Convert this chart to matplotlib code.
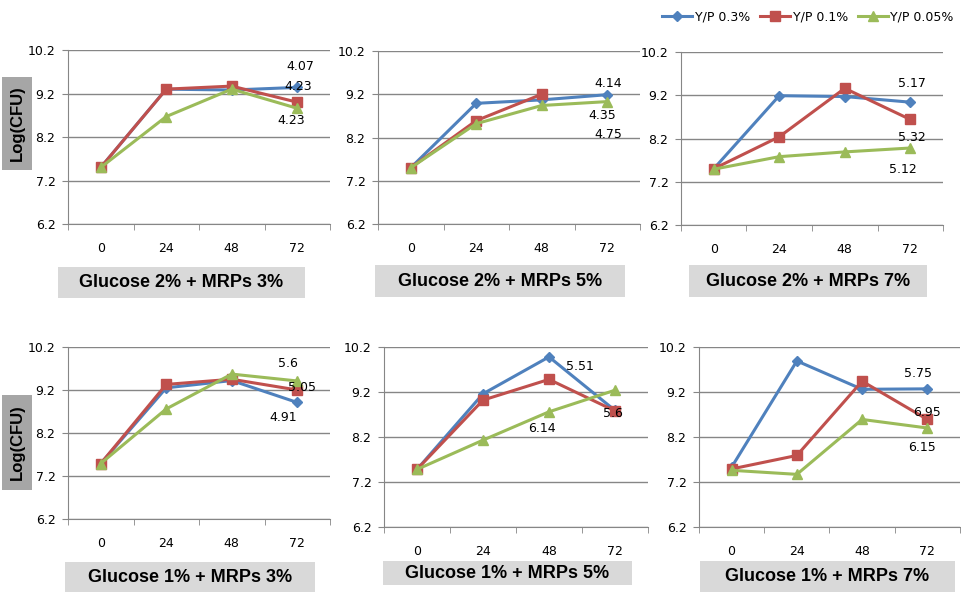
import numpy as np
import matplotlib
matplotlib.use('Agg')
import matplotlib.pyplot as plt
from matplotlib.patches import Rectangle

# time points (h)
hours = ['0', '24', '48', '72']
series_names = ['Y/P 0.3%', 'Y/P 0.1%', 'Y/P 0.05%']

titles = ['Glucose 2% + MRPs 3%', 'Glucose 2% + MRPs 5%', 'Glucose 2% + MRPs 7%',
          'Glucose 1% + MRPs 3%', 'Glucose 1% + MRPs 5%', 'Glucose 1% + MRPs 7%']

# Log(CFU) per panel, one list per series (0.3%, 0.1%, 0.05%)
g2_m3 = [[7.50, 9.30, 9.28, 9.34],
         [7.50, 9.30, 9.37, 9.00],
         [7.50, 8.67, 9.30, 8.86]]
g2_m5 = [[7.50, 8.99, 9.07, 9.19],
         [7.50, 8.59, 9.20, np.nan],
         [7.50, 8.52, 8.94, 9.03]]
g2_m7 = [[7.50, 9.19, 9.17, 9.04],
         [7.50, 8.24, 9.36, 8.64],
         [7.49, 7.78, 7.89, 7.98]]
g1_m3 = [[7.49, 9.25, 9.42, 8.91],
         [7.49, 9.33, 9.45, 9.20],
         [7.49, 8.76, 9.57, 9.41]]
g1_m5 = [[7.48, 9.16, 9.98, 8.79],
         [7.48, 9.02, 9.48, 8.78],
         [7.48, 8.13, 8.76, 9.24]]
g1_m7 = [[7.53, 9.89, 9.26, 9.27],
         [7.49, 7.79, 9.44, 8.59],
         [7.46, 7.37, 8.59, 8.40]]
panels = [g2_m3, g2_m5, g2_m7, g1_m3, g1_m5, g1_m7]

# data label texts shown next to the 72 h points
label_texts = [['4.07', '4.23', '4.23'], ['4.14', '4.35', '4.75'], ['5.17', '5.32', '5.12'],
               ['5.6', '5.05', '4.91'], ['5.51', '5.6', '6.14'], ['5.75', '6.95', '6.15']]
label_xy = [[(3.04, 9.81), (3.01, 9.37), (2.90, 8.57)],
            [(3.01, 9.46), (2.92, 8.70), (3.01, 8.26)],
            [(3.03, 9.48), (3.03, 8.23), (2.89, 7.49)],
            [(2.86, 9.82), (3.07, 9.26), (2.78, 8.55)],
            [(2.47, 9.77), (2.97, 8.73), (1.89, 8.39)],
            [(2.86, 9.62), (2.99, 8.75), (2.92, 7.97)]]

colors = ['#4F81BD', '#C0504D', '#9BBB59']
markers = ['D', 's', '^']
msizes = [5, 7, 7]

W, H = 962, 594
fig = plt.figure(figsize=(W / 100, H / 100), dpi=100)

# axes boxes in pixels: left, top, right, bottom
boxes = [(68, 50, 330, 224), (378, 51, 640, 224), (681, 52, 943, 225),
         (68, 347, 330, 519), (384, 347, 648, 527), (699, 347, 960, 527)]
title_boxes = [(58, 267, 305, 298), (375, 265, 625, 297), (689, 265, 927, 297),
               (65, 562, 315, 592), (383, 561, 632, 585), (700, 561, 955, 592)]

grid_col = '#868686'
handles = []
for k, data in enumerate(panels):
    l, t, r, b = boxes[k]
    ax = fig.add_axes([l / W, 1 - b / H, (r - l) / W, (b - t) / H])
    x = np.arange(len(hours))
    for s in range(3):
        h, = ax.plot(x, data[s], color=colors[s], lw=2.2, marker=markers[s],
                     ms=msizes[s], mec=colors[s], mfc=colors[s], zorder=3)
        if k == 0:
            handles.append(h)
    for txt, (tx, ty) in zip(label_texts[k], label_xy[k]):
        ax.text(tx, ty, txt, fontsize=9, ha='center', va='center', zorder=4)
    ax.set_xlim(-0.5, 3.5)
    ax.set_ylim(6.2, 10.2)
    ax.set_yticks([6.2, 7.2, 8.2, 9.2, 10.2])
    ax.set_yticklabels(['6.2', '7.2', '8.2', '9.2', '10.2'])
    ax.set_xticks(x)
    ax.set_xticklabels(hours)
    ax.set_xticks(np.arange(-0.5, 4, 1), minor=True)
    ax.tick_params(axis='x', which='major', length=0, pad=13, labelsize=9)
    ax.tick_params(axis='x', which='minor', length=4, color=grid_col, direction='out')
    ax.tick_params(axis='y', length=4, color=grid_col, pad=5, labelsize=9)
    ax.yaxis.grid(True, color=grid_col, lw=1)
    ax.set_axisbelow(True)
    for sp in ['top', 'right']:
        ax.spines[sp].set_visible(False)
    for sp in ['left', 'bottom']:
        ax.spines[sp].set_color(grid_col)

    # title box under each panel
    tl, tt, tr, tb = title_boxes[k]
    fig.add_artist(Rectangle((tl / W, 1 - tb / H), (tr - tl) / W, (tb - tt) / H,
                             transform=fig.transFigure, facecolor='#D9D9D9',
                             edgecolor='none'))
    fig.text((tl + tr) / 2 / W, 1 - (tt + tb) / 2 / H, titles[k], fontsize=13,
             fontweight='bold', family='Liberation Sans', ha='center', va='center')

# Log(CFU) boxes on the left of each row
for (yt, yb) in [(77, 170), (395, 490)]:
    fig.add_artist(Rectangle((2 / W, 1 - yb / H), 30 / W, (yb - yt) / H,
                             transform=fig.transFigure, facecolor='#A6A6A6',
                             edgecolor='none'))
    fig.text(17 / W, 1 - (yt + yb) / 2 / H, 'Log(CFU)', rotation=90, fontsize=12,
             fontweight='bold', family='Liberation Sans', ha='center', va='center')

fig.legend(handles, series_names, loc='center right', bbox_to_anchor=(960 / W, 1 - 17 / H),
           ncol=3, frameon=False, prop={'family': 'DejaVu Sans', 'size': 9},
           handlelength=2.4, columnspacing=0.8, handletextpad=0.2, borderaxespad=0.1)

fig.savefig('out.png', dpi=100)
